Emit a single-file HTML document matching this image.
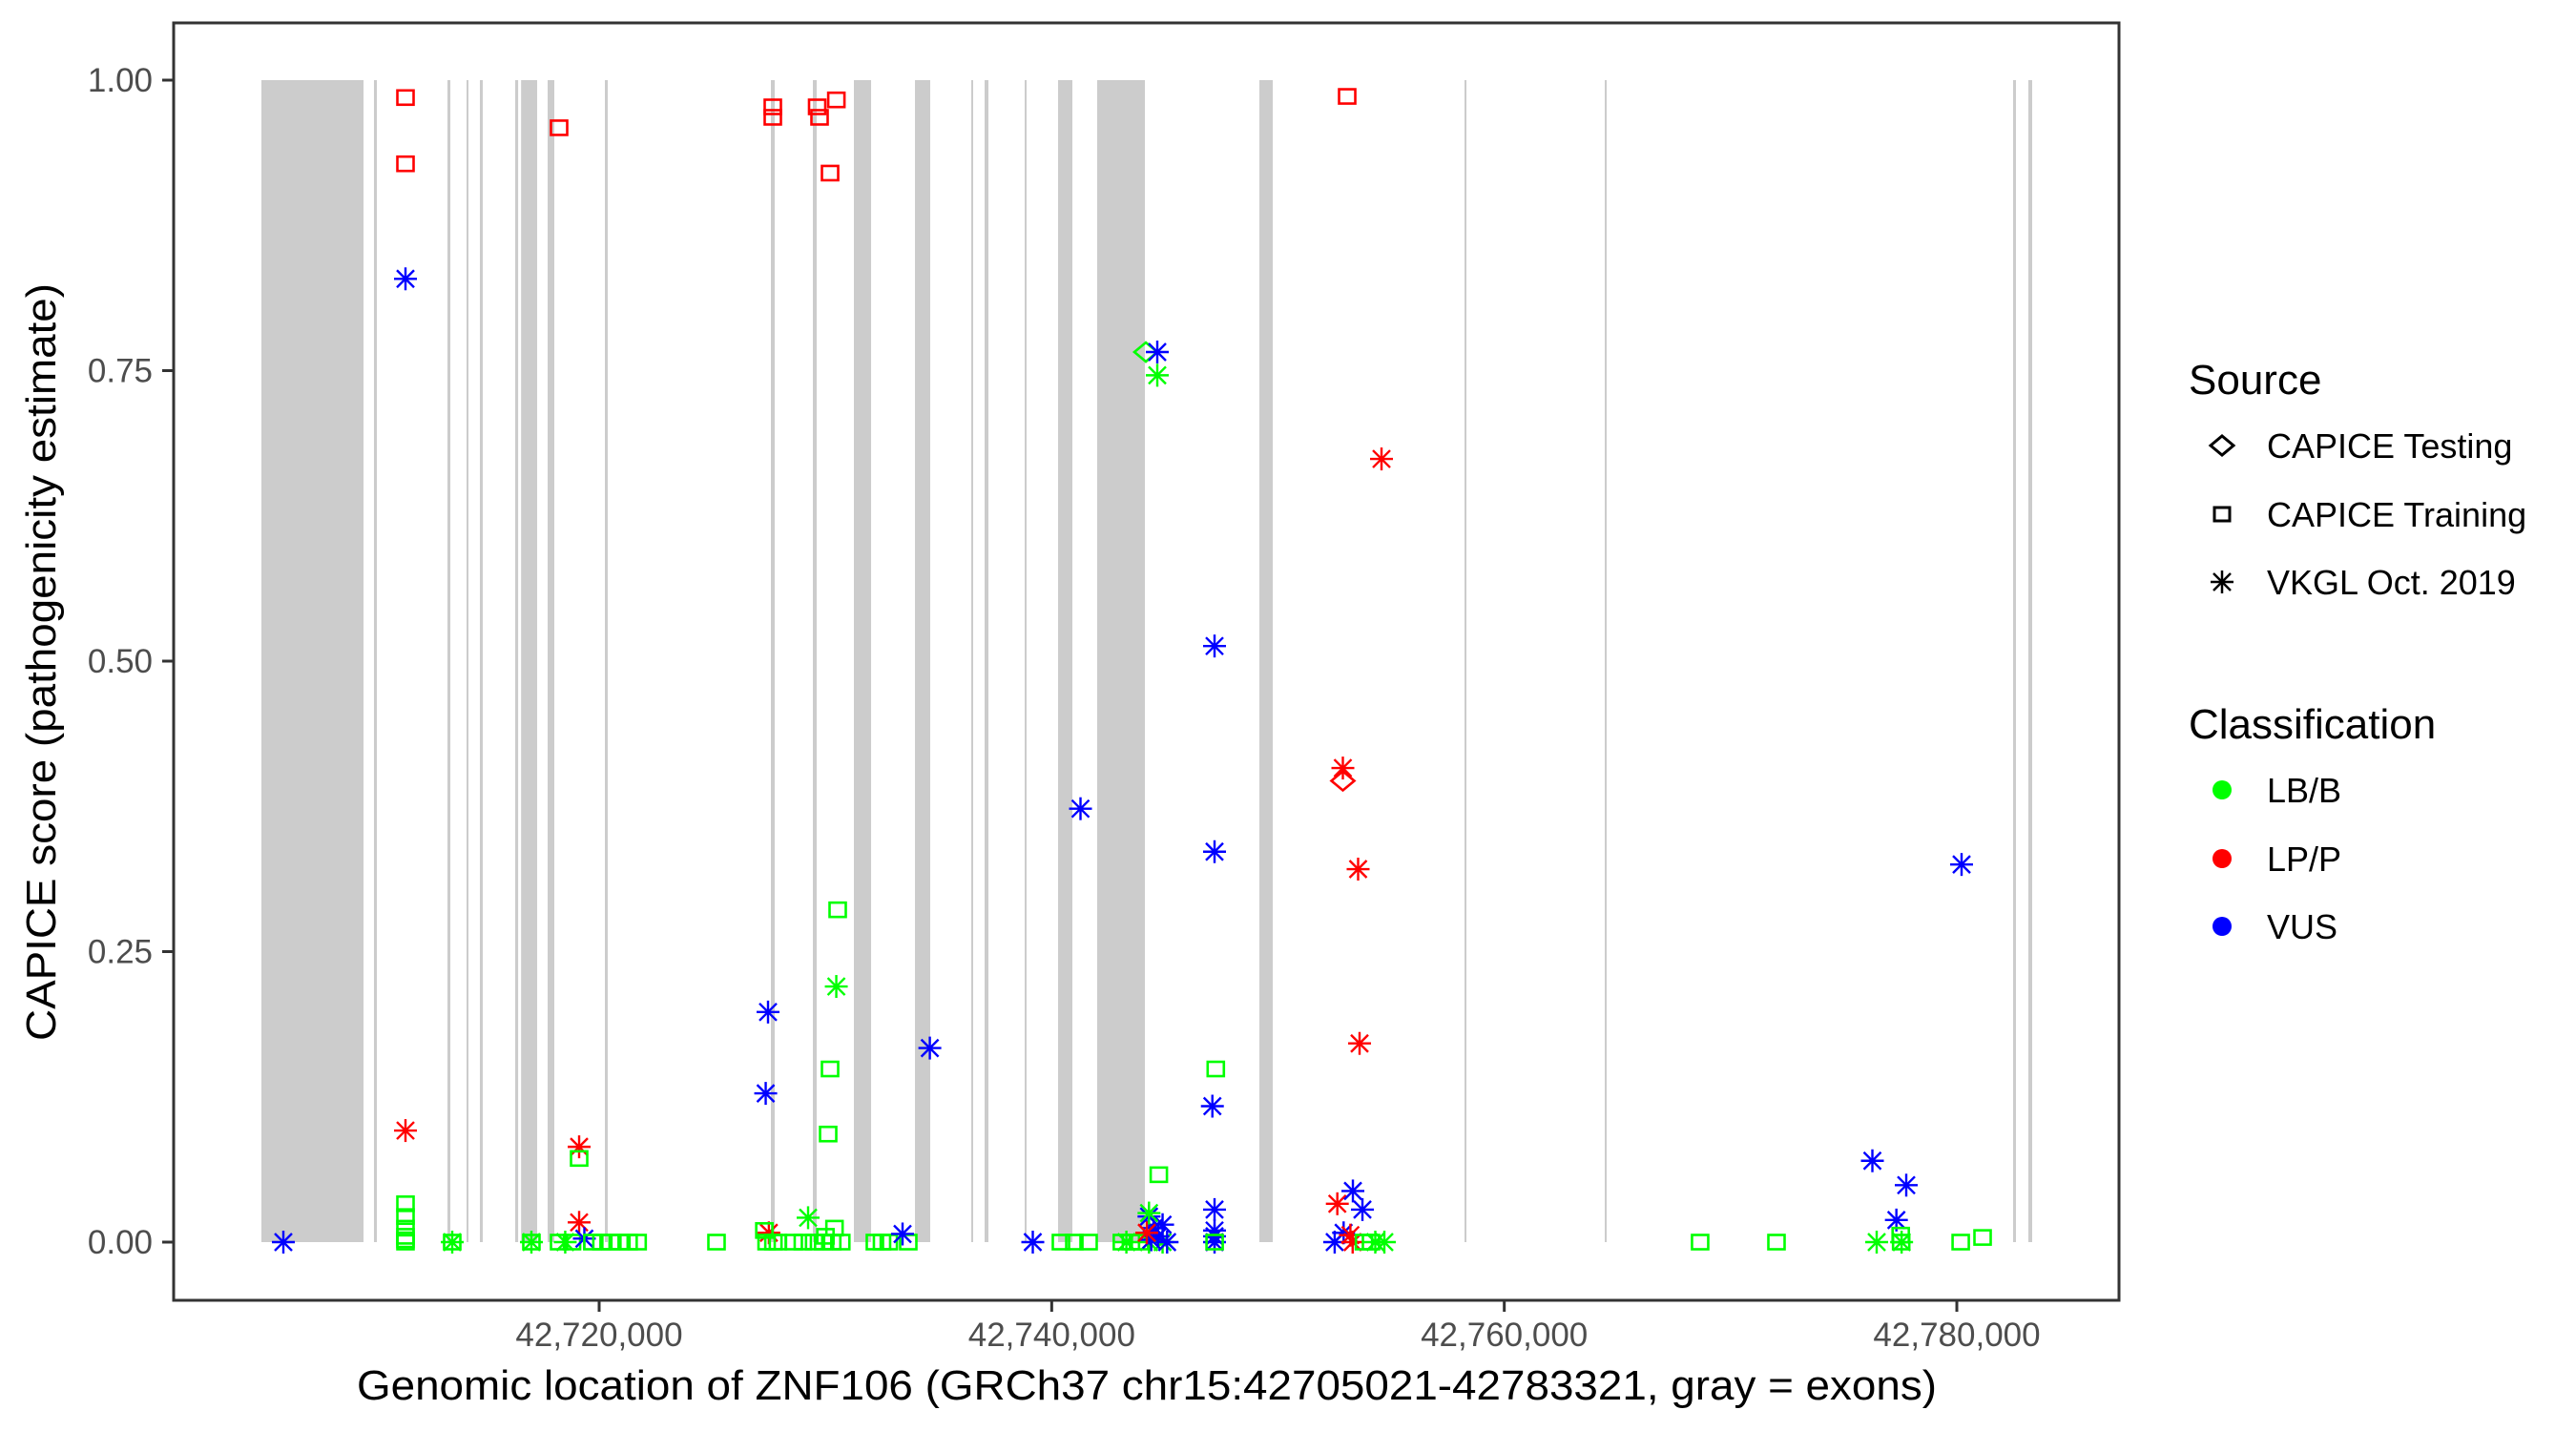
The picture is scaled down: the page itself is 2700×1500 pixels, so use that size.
<!DOCTYPE html>
<html><head><meta charset="utf-8"><style>
html,body{margin:0;padding:0;background:#fff;}
svg{display:block;font-family:"Liberation Sans",Arial,sans-serif;}
</style></head><body>
<svg id="chart" width="2700" height="1500" viewBox="0 0 2700 1500" xmlns="http://www.w3.org/2000/svg">
<rect x="0" y="0" width="2700" height="1500" fill="#fff"/>
<g id="exons"></g>
<g id="points"></g>
<rect x="182" y="24" width="2039" height="1339" fill="none" stroke="#333" stroke-width="3"/>
<g id="yaxis"></g>
<g id="xaxis"></g>
<text x="1202" y="1467" font-size="44" text-anchor="middle" textLength="1656" lengthAdjust="spacingAndGlyphs" fill="#000">Genomic location of ZNF106 (GRCh37 chr15:42705021-42783321, gray = exons)</text>
<text transform="translate(58,694) rotate(-90)" font-size="44" text-anchor="middle" textLength="794" lengthAdjust="spacingAndGlyphs" fill="#000">CAPICE score (pathogenicity estimate)</text>
<g>
<text x="2294" y="413" font-size="44" fill="#000">Source</text>
<g>
<polygon points="2317,467 2329,457 2341,467 2329,477" fill="none" stroke="#000" stroke-width="3"/>
<text x="2376" y="480" font-size="36" fill="#000">CAPICE Testing</text></g>
<g>
<rect x="2321" y="532" width="16" height="14" fill="none" stroke="#000" stroke-width="3"/>
<text x="2376" y="552" font-size="36" fill="#000">CAPICE Training</text></g>
<g>
<g stroke="#000" stroke-width="2.5"><line x1="2317" y1="610" x2="2341" y2="610"/><line x1="2329" y1="598" x2="2329" y2="622"/><line x1="2320" y1="601" x2="2338" y2="619"/><line x1="2320" y1="619" x2="2338" y2="601"/></g>
<text x="2376" y="623" font-size="36" fill="#000">VKGL Oct. 2019</text></g>
</g>
<g>
<text x="2294" y="774" font-size="44" fill="#000">Classification</text>
<g><circle cx="2329" cy="828" r="10" fill="#00ff00"/><text x="2376" y="841" font-size="36" fill="#000">LB/B</text></g>
<g><circle cx="2329" cy="900" r="10" fill="#ff0000"/><text x="2376" y="913" font-size="36" fill="#000">LP/P</text></g>
<g><circle cx="2329" cy="971" r="10" fill="#0000ff"/><text x="2376" y="984" font-size="36" fill="#000">VUS</text></g>
</g>
</svg>
<script>
const exonStarts=[42705074,42710049,42713296,42714139,42714729,42716290,42716550,42717723,42720253,42727590,42729445,42731258,42733956,42736444,42737034,42738805,42740281,42742010,42749177,42758243,42764441,42782487,42783162];
const exonEnds=[42709586,42710176,42713423,42714224,42714856,42716420,42717259,42718018,42720379,42727758,42729613,42732017,42734631,42736486,42737203,42738889,42740913,42744118,42749768,42758327,42764525,42782614,42783330];
const yTicks=[0,0.25,0.5,0.75,1];
const yTickLabels=["0.00","0.25","0.50","0.75","1.00"];
const xTicks=[42720000,42740000,42760000,42780000];
const xTickLabels=["42,720,000","42,740,000","42,760,000","42,780,000"];
const pointPos=[42706044,42711441,42711441,42711441,42711441,42711441,42711441,42711441,42711441,42711441,42711441,
42713507,42713507,42717006,42717006,42718229,42718230,42718500,42718800,42719115,42719115,42719115,42719346,
42719700,42720100,42720500,42720900,42721300,42721700,42725186,42727463,42727360,42727674,42727674,42727500,
42727300,42727400,42727700,42727900,42729234,42729634,42729740,42730482,42730204,42730541,42730480,42730204,42730120,42730400,
42728600,42729000,42729500,42729900,42730300,42730700,42730000,42732185,42732500,42732800,42733661,42733408,42734614,42739164,
42740407,42741000,42741630,42741272,42743100,42743500,42743900,42743300,42744300,42744900,42744160,42744666,42744666,42744733,
42744300,42744500,42744700,42744900,42745100,42744400,42744200,42744300,
42747196,42747196,42747100,42747196,42747196,42747196,42747196,42747250,42747200,
42752867,42752867,42753057,42754575,42753541,42753605,42752622,42753310,42753732,42752505,42752900,42753200,42753300,
42754701,42754111,42753800,42754300,42768655,42772030,42780210,42776268,42777765,42777329,42776458,42777520,42777540,42777560,42780171,42781138];
const pointScore=[0,0.985,0.928,0.829,0.096,0.033,0.022,0.012,0.005,0,0.002,
0,0,0,0,0.959,0,0,0,0.082,0.072,0.017,0.003,
0,0,0,0,0,0,0,0.198,0.128,0.977,0.968,0.008,
0.01,0,0,0,0.021,0.977,0.968,0.983,0.920,0.286,0.220,0.149,0.093,0.012,
0,0,0,0,0,0,0.005,0,0,0,0,0.007,0.167,0,
0,0,0,0.373,0,0,0,0,0,0,0.766,0.766,0.746,0.058,
0.022,0.012,0.005,0.015,0,0.002,0.008,0.025,
0.513,0.336,0.117,0.028,0.01,0.005,0,0.149,0,
0.397,0.408,0.986,0.674,0.321,0.171,0.033,0.044,0.028,0,0.008,0.006,0,
0,0,0,0,0,0,0.325,0.070,0.049,0.019,0,0.006,0,0,0,0.004];
const pointClass=["VUS","LP","LP","VUS","LP","LB","LB","LB","LB","LB","LB",
"LB","LB","LB","LB","LP","LB","LB","LB","LP","LB","LP","VUS",
"LB","LB","LB","LB","LB","LB","LB","VUS","VUS","LP","LP","LP",
"LB","LB","LB","LB","LB","LP","LP","LP","LP","LB","LB","LB","LB","LB",
"LB","LB","LB","LB","LB","LB","LB","LB","LB","LB","LB","VUS","VUS","VUS",
"LB","LB","LB","VUS","LB","LB","LB","LB","LB","LB","LB","VUS","LB","LB",
"VUS","VUS","VUS","VUS","VUS","VUS","LP","LB",
"VUS","VUS","VUS","VUS","VUS","VUS","VUS","LB","LB",
"LP","LP","LP","LP","LP","LP","LP","VUS","VUS","VUS","VUS","LP","LP",
"LB","LB","LB","LB","LB","LB","VUS","VUS","VUS","VUS","LB","LB","LB","LB","LB","LB"];
const pointSource=["V","R","R","V","V","R","R","R","R","R","R",
"V","R","V","R","R","R","V","R","V","R","V","V",
"R","R","R","R","R","R","R","V","V","R","R","V",
"R","R","R","R","V","R","R","R","R","R","V","R","R","R",
"R","R","R","R","R","R","R","R","R","R","R","V","V","V",
"R","R","R","V","R","R","R","V","V","V","T","V","V","R",
"V","V","V","V","V","V","V","V",
"V","V","V","V","V","V","V","R","R",
"T","V","R","V","V","V","V","V","V","V","V","V","V",
"V","R","R","V","R","R","V","V","V","V","V","R","R","V","R","R"];

const NS="http://www.w3.org/2000/svg";
function xScale(p){return 628+(p-42720000)*0.023717;}
function yScale(v){return 1302-v*1218;}
const colors={LB:"#00ff00",LP:"#ff0000",VUS:"#0000ff"};
function mk(tag,attrs,parent){const e=document.createElementNS(NS,tag);for(const k in attrs)e.setAttribute(k,attrs[k]);parent.appendChild(e);return e;}

const exG=document.getElementById('exons');
for(let i=0;i<exonStarts.length;i++){
  const x1=xScale(exonStarts[i]),x2=xScale(exonEnds[i]);
  const r=mk('rect',{x:x1,y:yScale(1),width:Math.max(2,x2-x1),height:yScale(0)-yScale(1),fill:"#cccccc"},exG);
  
  
}

const yG=document.getElementById('yaxis');
for(let i=0;i<yTicks.length;i++){
  const y=yScale(yTicks[i]);
  const l=mk('line',{x1:170,x2:182,y1:y,y2:y,stroke:"#333","stroke-width":3},yG);
  
  
  const t=mk('text',{x:160,y:y+12,"font-size":35,"text-anchor":"end",fill:"#4d4d4d"},yG);
  t.textContent=yTickLabels[i];
  
  
}
const xG=document.getElementById('xaxis');
for(let i=0;i<xTicks.length;i++){
  const x=xScale(xTicks[i]);
  const l=mk('line',{x1:x,x2:x,y1:1363,y2:1375,stroke:"#333","stroke-width":3},xG);
  
  
  const t=mk('text',{x:x,y:1411,"font-size":35,"text-anchor":"middle",fill:"#4d4d4d"},xG);
  t.textContent=xTickLabels[i];
  
  
}

const pG=document.getElementById('points');
for(let i=0;i<pointPos.length;i++){
  const x=xScale(pointPos[i]),y=yScale(pointScore[i]),c=colors[pointClass[i]],s=pointSource[i];
  let el;
  if(s==="R"){
    el=mk('rect',{x:x-8.5,y:y-7.5,width:17,height:15,fill:"none",stroke:c,"stroke-width":2.6},pG);
  }else if(s==="T"){
    el=mk('polygon',{points:`${x-12},${y} ${x},${y-10} ${x+12},${y} ${x},${y+10}`,fill:"none",stroke:c,"stroke-width":2.6},pG);
  }else{
    el=mk('g',{stroke:c,"stroke-width":2.4},pG);
    mk('line',{x1:x-12,y1:y,x2:x+12,y2:y},el);
    mk('line',{x1:x,y1:y-12,x2:x,y2:y+12},el);
    mk('line',{x1:x-9,y1:y-9,x2:x+9,y2:y+9},el);
    mk('line',{x1:x-9,y1:y+9,x2:x+9,y2:y-9},el);
  }
  
  
}
</script>
</body></html>
